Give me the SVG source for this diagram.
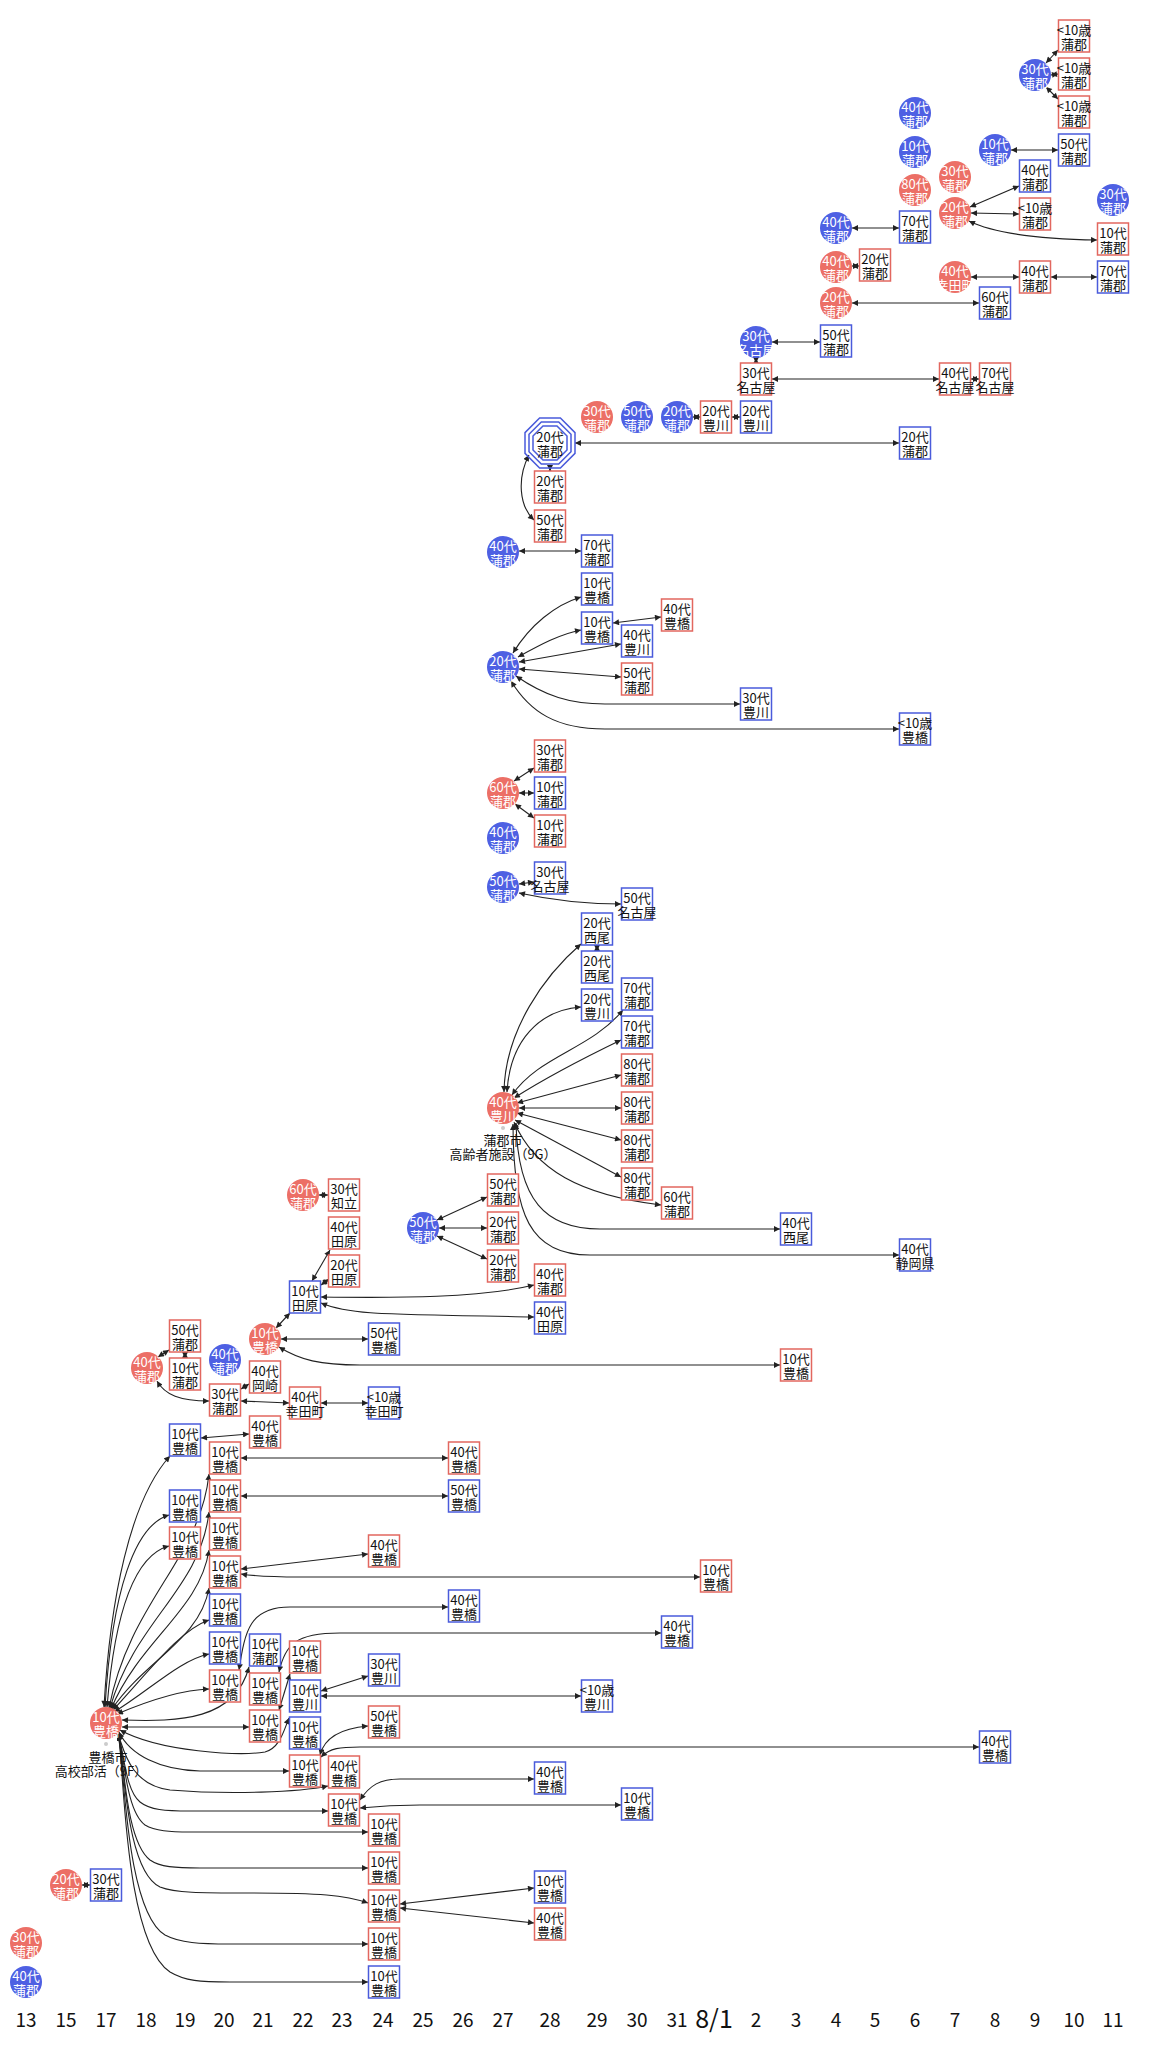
<svg xmlns="http://www.w3.org/2000/svg" width="1159" height="2048" viewBox="0 0 1159 2048">
<style>
text{font-family:"Noto Sans CJK JP","Noto Sans",sans-serif;font-size:13px;text-anchor:middle;dominant-baseline:central;fill:#111}
.cr circle{fill:#EC6F66}.cb circle{fill:#4E60E3}
.cr text,.cb text{fill:#fff}
.br rect{fill:#fff;stroke:#E2675F;stroke-width:1.5}
.bb rect{fill:#fff;stroke:#4A5BDB;stroke-width:1.5}
.oct polygon{fill:none;stroke:#4A5BDB;stroke-width:1.5}
#edges path{fill:none;stroke:#222;stroke-width:1.1;marker-start:url(#a);marker-end:url(#a)}
.ax text{font-size:19px;fill:#111}
text.lbl{font-size:13px;fill:#111}
</style>
<defs>
<marker id="a" viewBox="0 0 10 10" refX="10" refY="5" markerWidth="7" markerHeight="6" orient="auto-start-reverse" markerUnits="userSpaceOnUse"><path d="M0,0 L10,5 L0,10 z" fill="#222"/></marker>
</defs>
<rect width="1159" height="2048" fill="#fff"/>
<g id="edges">
<path d="M1046,63 L1058,50"/>
<path d="M1051,75 L1058,74"/>
<path d="M1046,87 L1058,99"/>
<path d="M1011,150 L1058,150"/>
<path d="M970,207 L1019,186"/>
<path d="M971,213 L1019,214"/>
<path d="M969,221 C995,234 1040,239 1097,240"/>
<path d="M852,228 L899,228"/>
<path d="M852,266 L859,266"/>
<path d="M971,277 L1019,277"/>
<path d="M1051,277 L1097,277"/>
<path d="M852,303 L979,303"/>
<path d="M772,342 L820,342"/>
<path d="M756,358 L756,363"/>
<path d="M772,379 L939,379"/>
<path d="M971,379 L979,379"/>
<path d="M693,417 L700,417"/>
<path d="M732,417 L740,417"/>
<path d="M575,443 L899,443"/>
<path d="M550,468 L550,471"/>
<path d="M529,455 C517,478 519,506 534,520"/>
<path d="M519,551 L581,551"/>
<path d="M513,653 C530,625 555,605 581,597"/>
<path d="M518,657 C540,645 560,634 581,630"/>
<path d="M613,623 L661,617"/>
<path d="M519,662 L621,644"/>
<path d="M519,669 L621,677"/>
<path d="M516,676 C545,696 570,704 605,704 L740,704"/>
<path d="M511,681 C530,712 556,729 605,729 L899,729"/>
<path d="M514,781 L534,768"/>
<path d="M519,793 L534,793"/>
<path d="M515,804 L534,818"/>
<path d="M519,884 L534,882"/>
<path d="M519,893 C560,902 590,904 621,904"/>
<path d="M504,1092 C505,1030 545,975 581,944"/>
<path d="M597,945 L597,951"/>
<path d="M507,1092 C510,1040 540,1010 581,1007"/>
<path d="M512,1095 C540,1055 590,1050 623,1010"/>
<path d="M514,1098 C550,1075 590,1055 621,1040"/>
<path d="M517,1103 L621,1075"/>
<path d="M519,1108 L621,1108"/>
<path d="M517,1113 L621,1140"/>
<path d="M515,1120 L621,1177"/>
<path d="M514,1122 C535,1170 580,1195 661,1205"/>
<path d="M516,1123 C518,1200 545,1229 600,1229 L780,1229"/>
<path d="M513,1124 C513,1215 530,1255 590,1255 L899,1255"/>
<path d="M319,1195 L328,1195"/>
<path d="M312,1281 L330,1250"/>
<path d="M321,1285 L329,1279"/>
<path d="M321,1297 C400,1298 480,1298 534,1285"/>
<path d="M321,1303 C350,1315 380,1314 534,1317"/>
<path d="M276,1328 L290,1313"/>
<path d="M437,1220 L487,1197"/>
<path d="M439,1228 L487,1228"/>
<path d="M437,1236 L487,1259"/>
<path d="M281,1339 L368,1339"/>
<path d="M279,1347 C300,1360 320,1365 360,1365 L780,1365"/>
<path d="M158,1357 L169,1350"/>
<path d="M185,1352 L185,1358"/>
<path d="M157,1381 C165,1395 180,1401 209,1401"/>
<path d="M241,1389 L249,1384"/>
<path d="M241,1401 L289,1403"/>
<path d="M321,1403 L368,1403"/>
<path d="M201,1438 L249,1434"/>
<path d="M241,1458 L448,1458"/>
<path d="M241,1496 L448,1496"/>
<path d="M241,1569 L368,1554"/>
<path d="M241,1574 C260,1577 280,1577 300,1577 L700,1577"/>
<path d="M239,1670 C245,1630 250,1607 290,1607 L448,1607"/>
<path d="M279,1672 C285,1645 295,1633 340,1633 L661,1633"/>
<path d="M279,1710 L290,1674"/>
<path d="M321,1691 L368,1676"/>
<path d="M321,1696 L581,1696"/>
<path d="M320,1755 C325,1735 345,1728 368,1726"/>
<path d="M321,1757 C330,1748 340,1747 360,1747 L979,1747"/>
<path d="M360,1800 C370,1785 380,1779 400,1779 L534,1779"/>
<path d="M360,1808 C380,1806 400,1805 420,1805 L621,1805"/>
<path d="M400,1904 L534,1888"/>
<path d="M400,1908 L534,1923"/>
<path d="M82,1885 L90,1885"/>
<path d="M104,1707 C110,1600 130,1500 170,1456"/>
<path d="M105,1707 C112,1590 135,1525 169,1515"/>
<path d="M107,1707 C115,1610 135,1555 169,1546"/>
<path d="M109,1708 C130,1600 200,1560 209,1474"/>
<path d="M110,1708 C135,1620 200,1590 209,1512"/>
<path d="M111,1709 C140,1640 200,1610 209,1550"/>
<path d="M112,1709 C145,1660 200,1640 209,1588"/>
<path d="M113,1710 C150,1670 180,1630 209,1620"/>
<path d="M114,1712 C150,1690 180,1660 209,1654"/>
<path d="M117,1714 C150,1700 180,1690 209,1689"/>
<path d="M122,1720 C180,1722 235,1720 249,1667"/>
<path d="M122,1727 L249,1727"/>
<path d="M120,1730 C160,1752 240,1756 265,1752 C280,1748 284,1730 289,1718"/>
<path d="M119,1732 C130,1755 160,1770 200,1771 L289,1771"/>
<path d="M118,1734 C124,1750 130,1785 170,1790 C230,1795 300,1792 328,1786"/>
<path d="M118,1734 C124,1750 125,1790 140,1802 C150,1810 165,1811 190,1811 L328,1811"/>
<path d="M118,1734 C124,1750 125,1810 145,1825 C155,1831 170,1832 190,1832 L368,1832"/>
<path d="M118,1734 C124,1750 124,1840 150,1860 C160,1867 175,1868 200,1868 L368,1868"/>
<path d="M118,1734 C124,1750 124,1870 160,1887 C175,1893 200,1893 250,1893 C320,1893 345,1895 368,1903"/>
<path d="M118,1734 C124,1750 124,1910 165,1935 C180,1943 200,1944 230,1944 L368,1944"/>
<path d="M118,1734 C124,1750 122,1940 170,1972 C185,1981 200,1982 230,1982 L368,1982"/>
</g>
<g id="n1" class="br"><rect x="1058.5" y="20" width="31" height="32"/><text x="1074" y="29.3">&lt;10歳<tspan x="1074" dy="13.4">蒲郡</tspan></text></g>
<g id="n2" class="br"><rect x="1058.5" y="58" width="31" height="32"/><text x="1074" y="67.3">&lt;10歳<tspan x="1074" dy="13.4">蒲郡</tspan></text></g>
<g id="n3" class="br"><rect x="1058.5" y="96" width="31" height="32"/><text x="1074" y="105.3">&lt;10歳<tspan x="1074" dy="13.4">蒲郡</tspan></text></g>
<g id="n4" class="cb"><circle cx="1035" cy="75" r="16"/><text x="1035" y="68.3">30代<tspan x="1035" dy="13.4">蒲郡</tspan></text></g>
<g id="n5" class="cb"><circle cx="915" cy="113" r="16"/><text x="915" y="106.3">40代<tspan x="915" dy="13.4">蒲郡</tspan></text></g>
<g id="n6" class="cb"><circle cx="915" cy="152" r="16"/><text x="915" y="145.3">10代<tspan x="915" dy="13.4">蒲郡</tspan></text></g>
<g id="n7" class="cr"><circle cx="915" cy="190" r="16"/><text x="915" y="183.3">80代<tspan x="915" dy="13.4">蒲郡</tspan></text></g>
<g id="n8" class="cb"><circle cx="995" cy="150" r="16"/><text x="995" y="143.3">10代<tspan x="995" dy="13.4">蒲郡</tspan></text></g>
<g id="n9" class="bb"><rect x="1058.5" y="134" width="31" height="32"/><text x="1074" y="143.3">50代<tspan x="1074" dy="13.4">蒲郡</tspan></text></g>
<g id="n10" class="cr"><circle cx="955" cy="177" r="16"/><text x="955" y="170.3">30代<tspan x="955" dy="13.4">蒲郡</tspan></text></g>
<g id="n11" class="cr"><circle cx="955" cy="213" r="16"/><text x="955" y="206.3">20代<tspan x="955" dy="13.4">蒲郡</tspan></text></g>
<g id="n12" class="bb"><rect x="1019.5" y="160" width="31" height="32"/><text x="1035" y="169.3">40代<tspan x="1035" dy="13.4">蒲郡</tspan></text></g>
<g id="n13" class="br"><rect x="1019.5" y="198" width="31" height="32"/><text x="1035" y="207.3">&lt;10歳<tspan x="1035" dy="13.4">蒲郡</tspan></text></g>
<g id="n14" class="cb"><circle cx="1113" cy="200" r="16"/><text x="1113" y="193.3">30代<tspan x="1113" dy="13.4">蒲郡</tspan></text></g>
<g id="n15" class="br"><rect x="1097.5" y="223" width="31" height="32"/><text x="1113" y="232.3">10代<tspan x="1113" dy="13.4">蒲郡</tspan></text></g>
<g id="n16" class="cb"><circle cx="836" cy="228" r="16"/><text x="836" y="221.3">40代<tspan x="836" dy="13.4">蒲郡</tspan></text></g>
<g id="n17" class="bb"><rect x="899.5" y="211" width="31" height="32"/><text x="915" y="220.3">70代<tspan x="915" dy="13.4">蒲郡</tspan></text></g>
<g id="n18" class="cr"><circle cx="836" cy="267" r="16"/><text x="836" y="260.3">40代<tspan x="836" dy="13.4">蒲郡</tspan></text></g>
<g id="n19" class="br"><rect x="859.5" y="249" width="31" height="32"/><text x="875" y="258.3">20代<tspan x="875" dy="13.4">蒲郡</tspan></text></g>
<g id="n20" class="cr"><circle cx="955" cy="277" r="16"/><text x="955" y="270.3">40代<tspan x="955" dy="13.4">幸田町</tspan></text></g>
<g id="n21" class="br"><rect x="1019.5" y="261" width="31" height="32"/><text x="1035" y="270.3">40代<tspan x="1035" dy="13.4">蒲郡</tspan></text></g>
<g id="n22" class="bb"><rect x="1097.5" y="261" width="31" height="32"/><text x="1113" y="270.3">70代<tspan x="1113" dy="13.4">蒲郡</tspan></text></g>
<g id="n23" class="cr"><circle cx="836" cy="303" r="16"/><text x="836" y="296.3">20代<tspan x="836" dy="13.4">蒲郡</tspan></text></g>
<g id="n24" class="bb"><rect x="979.5" y="287" width="31" height="32"/><text x="995" y="296.3">60代<tspan x="995" dy="13.4">蒲郡</tspan></text></g>
<g id="n25" class="cb"><circle cx="756" cy="342" r="16"/><text x="756" y="335.3">30代<tspan x="756" dy="13.4">名古屋</tspan></text></g>
<g id="n26" class="bb"><rect x="820.5" y="325" width="31" height="32"/><text x="836" y="334.3">50代<tspan x="836" dy="13.4">蒲郡</tspan></text></g>
<g id="n27" class="br"><rect x="740.5" y="363" width="31" height="32"/><text x="756" y="372.3">30代<tspan x="756" dy="13.4">名古屋</tspan></text></g>
<g id="n28" class="br"><rect x="939.5" y="363" width="31" height="32"/><text x="955" y="372.3">40代<tspan x="955" dy="13.4">名古屋</tspan></text></g>
<g id="n29" class="br"><rect x="979.5" y="363" width="31" height="32"/><text x="995" y="372.3">70代<tspan x="995" dy="13.4">名古屋</tspan></text></g>
<g id="n30" class="cr"><circle cx="597" cy="417" r="16"/><text x="597" y="410.3">30代<tspan x="597" dy="13.4">蒲郡</tspan></text></g>
<g id="n31" class="cb"><circle cx="637" cy="417" r="16"/><text x="637" y="410.3">50代<tspan x="637" dy="13.4">蒲郡</tspan></text></g>
<g id="n32" class="cb"><circle cx="677" cy="417" r="16"/><text x="677" y="410.3">20代<tspan x="677" dy="13.4">蒲郡</tspan></text></g>
<g id="n33" class="br"><rect x="700.5" y="401" width="31" height="32"/><text x="716" y="410.3">20代<tspan x="716" dy="13.4">豊川</tspan></text></g>
<g id="n34" class="bb"><rect x="740.5" y="401" width="31" height="32"/><text x="756" y="410.3">20代<tspan x="756" dy="13.4">豊川</tspan></text></g>
<g id="n35" class="oct"><g transform="translate(550,443)"><polygon points="25,-10.4 25,10.4 10.4,25 -10.4,25 -25,10.4 -25,-10.4 -10.4,-25 10.4,-25"/><polygon points="21,-8.7 21,8.7 8.7,21 -8.7,21 -21,8.7 -21,-8.7 -8.7,-21 8.7,-21"/><polygon points="17,-7 17,7 7,17 -7,17 -17,7 -17,-7 -7,-17 7,-17"/></g><text x="550" y="436.3">20代<tspan x="550" dy="13.4">蒲郡</tspan></text></g>
<g id="n36" class="bb"><rect x="899.5" y="427" width="31" height="32"/><text x="915" y="436.3">20代<tspan x="915" dy="13.4">蒲郡</tspan></text></g>
<g id="n37" class="br"><rect x="534.5" y="471" width="31" height="32"/><text x="550" y="480.3">20代<tspan x="550" dy="13.4">蒲郡</tspan></text></g>
<g id="n38" class="br"><rect x="534.5" y="510" width="31" height="32"/><text x="550" y="519.3">50代<tspan x="550" dy="13.4">蒲郡</tspan></text></g>
<g id="n39" class="cb"><circle cx="503" cy="552" r="16"/><text x="503" y="545.3">40代<tspan x="503" dy="13.4">蒲郡</tspan></text></g>
<g id="n40" class="bb"><rect x="581.5" y="535" width="31" height="32"/><text x="597" y="544.3">70代<tspan x="597" dy="13.4">蒲郡</tspan></text></g>
<g id="n41" class="bb"><rect x="581.5" y="573" width="31" height="32"/><text x="597" y="582.3">10代<tspan x="597" dy="13.4">豊橋</tspan></text></g>
<g id="n42" class="bb"><rect x="581.5" y="612" width="31" height="32"/><text x="597" y="621.3">10代<tspan x="597" dy="13.4">豊橋</tspan></text></g>
<g id="n43" class="br"><rect x="661.5" y="599" width="31" height="32"/><text x="677" y="608.3">40代<tspan x="677" dy="13.4">豊橋</tspan></text></g>
<g id="n44" class="bb"><rect x="621.5" y="625" width="31" height="32"/><text x="637" y="634.3">40代<tspan x="637" dy="13.4">豊川</tspan></text></g>
<g id="n45" class="cb"><circle cx="503" cy="667" r="16"/><text x="503" y="660.3">20代<tspan x="503" dy="13.4">蒲郡</tspan></text></g>
<g id="n46" class="br"><rect x="621.5" y="663" width="31" height="32"/><text x="637" y="672.3">50代<tspan x="637" dy="13.4">蒲郡</tspan></text></g>
<g id="n47" class="bb"><rect x="740.5" y="688" width="31" height="32"/><text x="756" y="697.3">30代<tspan x="756" dy="13.4">豊川</tspan></text></g>
<g id="n48" class="bb"><rect x="899.5" y="713" width="31" height="32"/><text x="915" y="722.3">&lt;10歳<tspan x="915" dy="13.4">豊橋</tspan></text></g>
<g id="n49" class="br"><rect x="534.5" y="740" width="31" height="32"/><text x="550" y="749.3">30代<tspan x="550" dy="13.4">蒲郡</tspan></text></g>
<g id="n50" class="cr"><circle cx="503" cy="793" r="16"/><text x="503" y="786.3">60代<tspan x="503" dy="13.4">蒲郡</tspan></text></g>
<g id="n51" class="bb"><rect x="534.5" y="777" width="31" height="32"/><text x="550" y="786.3">10代<tspan x="550" dy="13.4">蒲郡</tspan></text></g>
<g id="n52" class="br"><rect x="534.5" y="815" width="31" height="32"/><text x="550" y="824.3">10代<tspan x="550" dy="13.4">蒲郡</tspan></text></g>
<g id="n53" class="cb"><circle cx="503" cy="838" r="16"/><text x="503" y="831.3">40代<tspan x="503" dy="13.4">蒲郡</tspan></text></g>
<g id="n54" class="cb"><circle cx="503" cy="887" r="16"/><text x="503" y="880.3">50代<tspan x="503" dy="13.4">蒲郡</tspan></text></g>
<g id="n55" class="bb"><rect x="534.5" y="862" width="31" height="32"/><text x="550" y="871.3">30代<tspan x="550" dy="13.4">名古屋</tspan></text></g>
<g id="n56" class="bb"><rect x="621.5" y="888" width="31" height="32"/><text x="637" y="897.3">50代<tspan x="637" dy="13.4">名古屋</tspan></text></g>
<g id="n57" class="bb"><rect x="581.5" y="913" width="31" height="32"/><text x="597" y="922.3">20代<tspan x="597" dy="13.4">西尾</tspan></text></g>
<g id="n58" class="bb"><rect x="581.5" y="951" width="31" height="32"/><text x="597" y="960.3">20代<tspan x="597" dy="13.4">西尾</tspan></text></g>
<g id="n59" class="bb"><rect x="581.5" y="989" width="31" height="32"/><text x="597" y="998.3">20代<tspan x="597" dy="13.4">豊川</tspan></text></g>
<g id="n60" class="bb"><rect x="621.5" y="978" width="31" height="32"/><text x="637" y="987.3">70代<tspan x="637" dy="13.4">蒲郡</tspan></text></g>
<g id="n61" class="bb"><rect x="621.5" y="1016" width="31" height="32"/><text x="637" y="1025.3">70代<tspan x="637" dy="13.4">蒲郡</tspan></text></g>
<g id="n62" class="br"><rect x="621.5" y="1054" width="31" height="32"/><text x="637" y="1063.3">80代<tspan x="637" dy="13.4">蒲郡</tspan></text></g>
<g id="n63" class="br"><rect x="621.5" y="1092" width="31" height="32"/><text x="637" y="1101.3">80代<tspan x="637" dy="13.4">蒲郡</tspan></text></g>
<g id="n64" class="br"><rect x="621.5" y="1130" width="31" height="32"/><text x="637" y="1139.3">80代<tspan x="637" dy="13.4">蒲郡</tspan></text></g>
<g id="n65" class="br"><rect x="621.5" y="1168" width="31" height="32"/><text x="637" y="1177.3">80代<tspan x="637" dy="13.4">蒲郡</tspan></text></g>
<g id="n66" class="br"><rect x="661.5" y="1187" width="31" height="32"/><text x="677" y="1196.3">60代<tspan x="677" dy="13.4">蒲郡</tspan></text></g>
<g id="n67" class="bb"><rect x="780.5" y="1213" width="31" height="32"/><text x="796" y="1222.3">40代<tspan x="796" dy="13.4">西尾</tspan></text></g>
<g id="n68" class="bb"><rect x="899.5" y="1239" width="31" height="32"/><text x="915" y="1248.3">40代<tspan x="915" dy="13.4">静岡県</tspan></text></g>
<g id="n69" class="cr"><circle cx="503" cy="1108" r="16"/><text x="503" y="1101.3">40代<tspan x="503" dy="13.4">豊川</tspan></text><circle cx="503" cy="1128" r="2" style="fill:#ccc"/><text class="lbl" x="503" y="1139">蒲郡市<tspan x="503" dy="14">高齢者施設（9G）</tspan></text></g>
<g id="n70" class="cr"><circle cx="303" cy="1195" r="16"/><text x="303" y="1188.3">60代<tspan x="303" dy="13.4">蒲郡</tspan></text></g>
<g id="n71" class="br"><rect x="328.5" y="1179" width="31" height="32"/><text x="344" y="1188.3">30代<tspan x="344" dy="13.4">知立</tspan></text></g>
<g id="n72" class="br"><rect x="328.5" y="1217" width="31" height="32"/><text x="344" y="1226.3">40代<tspan x="344" dy="13.4">田原</tspan></text></g>
<g id="n73" class="br"><rect x="328.5" y="1255" width="31" height="32"/><text x="344" y="1264.3">20代<tspan x="344" dy="13.4">田原</tspan></text></g>
<g id="n74" class="bb"><rect x="289.5" y="1281" width="31" height="32"/><text x="305" y="1290.3">10代<tspan x="305" dy="13.4">田原</tspan></text></g>
<g id="n75" class="cb"><circle cx="423" cy="1228" r="16"/><text x="423" y="1221.3">50代<tspan x="423" dy="13.4">蒲郡</tspan></text></g>
<g id="n76" class="br"><rect x="487.5" y="1174" width="31" height="32"/><text x="503" y="1183.3">50代<tspan x="503" dy="13.4">蒲郡</tspan></text></g>
<g id="n77" class="br"><rect x="487.5" y="1212" width="31" height="32"/><text x="503" y="1221.3">20代<tspan x="503" dy="13.4">蒲郡</tspan></text></g>
<g id="n78" class="br"><rect x="487.5" y="1250" width="31" height="32"/><text x="503" y="1259.3">20代<tspan x="503" dy="13.4">蒲郡</tspan></text></g>
<g id="n79" class="br"><rect x="534.5" y="1264" width="31" height="32"/><text x="550" y="1273.3">40代<tspan x="550" dy="13.4">蒲郡</tspan></text></g>
<g id="n80" class="bb"><rect x="534.5" y="1302" width="31" height="32"/><text x="550" y="1311.3">40代<tspan x="550" dy="13.4">田原</tspan></text></g>
<g id="n81" class="cr"><circle cx="265" cy="1339" r="16"/><text x="265" y="1332.3">10代<tspan x="265" dy="13.4">豊橋</tspan></text></g>
<g id="n82" class="bb"><rect x="368.5" y="1323" width="31" height="32"/><text x="384" y="1332.3">50代<tspan x="384" dy="13.4">豊橋</tspan></text></g>
<g id="n83" class="br"><rect x="780.5" y="1349" width="31" height="32"/><text x="796" y="1358.3">10代<tspan x="796" dy="13.4">豊橋</tspan></text></g>
<g id="n84" class="cr"><circle cx="147" cy="1368" r="16"/><text x="147" y="1361.3">40代<tspan x="147" dy="13.4">蒲郡</tspan></text></g>
<g id="n85" class="br"><rect x="169.5" y="1320" width="31" height="32"/><text x="185" y="1329.3">50代<tspan x="185" dy="13.4">蒲郡</tspan></text></g>
<g id="n86" class="br"><rect x="169.5" y="1358" width="31" height="32"/><text x="185" y="1367.3">10代<tspan x="185" dy="13.4">蒲郡</tspan></text></g>
<g id="n87" class="cb"><circle cx="225" cy="1360" r="16"/><text x="225" y="1353.3">40代<tspan x="225" dy="13.4">蒲郡</tspan></text></g>
<g id="n88" class="br"><rect x="249.5" y="1361" width="31" height="32"/><text x="265" y="1370.3">40代<tspan x="265" dy="13.4">岡崎</tspan></text></g>
<g id="n89" class="br"><rect x="209.5" y="1384" width="31" height="32"/><text x="225" y="1393.3">30代<tspan x="225" dy="13.4">蒲郡</tspan></text></g>
<g id="n90" class="br"><rect x="289.5" y="1387" width="31" height="32"/><text x="305" y="1396.3">40代<tspan x="305" dy="13.4">幸田町</tspan></text></g>
<g id="n91" class="bb"><rect x="368.5" y="1387" width="31" height="32"/><text x="384" y="1396.3">&lt;10歳<tspan x="384" dy="13.4">幸田町</tspan></text></g>
<g id="n92" class="bb"><rect x="169.5" y="1424" width="31" height="32"/><text x="185" y="1433.3">10代<tspan x="185" dy="13.4">豊橋</tspan></text></g>
<g id="n93" class="br"><rect x="249.5" y="1416" width="31" height="32"/><text x="265" y="1425.3">40代<tspan x="265" dy="13.4">豊橋</tspan></text></g>
<g id="n94" class="br"><rect x="209.5" y="1442" width="31" height="32"/><text x="225" y="1451.3">10代<tspan x="225" dy="13.4">豊橋</tspan></text></g>
<g id="n95" class="br"><rect x="448.5" y="1442" width="31" height="32"/><text x="464" y="1451.3">40代<tspan x="464" dy="13.4">豊橋</tspan></text></g>
<g id="n96" class="br"><rect x="209.5" y="1480" width="31" height="32"/><text x="225" y="1489.3">10代<tspan x="225" dy="13.4">豊橋</tspan></text></g>
<g id="n97" class="bb"><rect x="448.5" y="1480" width="31" height="32"/><text x="464" y="1489.3">50代<tspan x="464" dy="13.4">豊橋</tspan></text></g>
<g id="n98" class="bb"><rect x="169.5" y="1490" width="31" height="32"/><text x="185" y="1499.3">10代<tspan x="185" dy="13.4">豊橋</tspan></text></g>
<g id="n99" class="br"><rect x="169.5" y="1527" width="31" height="32"/><text x="185" y="1536.3">10代<tspan x="185" dy="13.4">豊橋</tspan></text></g>
<g id="n100" class="br"><rect x="209.5" y="1518" width="31" height="32"/><text x="225" y="1527.3">10代<tspan x="225" dy="13.4">豊橋</tspan></text></g>
<g id="n101" class="br"><rect x="368.5" y="1535" width="31" height="32"/><text x="384" y="1544.3">40代<tspan x="384" dy="13.4">豊橋</tspan></text></g>
<g id="n102" class="br"><rect x="209.5" y="1556" width="31" height="32"/><text x="225" y="1565.3">10代<tspan x="225" dy="13.4">豊橋</tspan></text></g>
<g id="n103" class="br"><rect x="700.5" y="1560" width="31" height="32"/><text x="716" y="1569.3">10代<tspan x="716" dy="13.4">豊橋</tspan></text></g>
<g id="n104" class="bb"><rect x="209.5" y="1594" width="31" height="32"/><text x="225" y="1603.3">10代<tspan x="225" dy="13.4">豊橋</tspan></text></g>
<g id="n105" class="bb"><rect x="448.5" y="1590" width="31" height="32"/><text x="464" y="1599.3">40代<tspan x="464" dy="13.4">豊橋</tspan></text></g>
<g id="n106" class="bb"><rect x="661.5" y="1616" width="31" height="32"/><text x="677" y="1625.3">40代<tspan x="677" dy="13.4">豊橋</tspan></text></g>
<g id="n107" class="bb"><rect x="209.5" y="1632" width="31" height="32"/><text x="225" y="1641.3">10代<tspan x="225" dy="13.4">豊橋</tspan></text></g>
<g id="n108" class="bb"><rect x="249.5" y="1634" width="31" height="32"/><text x="265" y="1643.3">10代<tspan x="265" dy="13.4">蒲郡</tspan></text></g>
<g id="n109" class="br"><rect x="289.5" y="1641" width="31" height="32"/><text x="305" y="1650.3">10代<tspan x="305" dy="13.4">豊橋</tspan></text></g>
<g id="n110" class="bb"><rect x="368.5" y="1654" width="31" height="32"/><text x="384" y="1663.3">30代<tspan x="384" dy="13.4">豊川</tspan></text></g>
<g id="n111" class="br"><rect x="209.5" y="1670" width="31" height="32"/><text x="225" y="1679.3">10代<tspan x="225" dy="13.4">豊橋</tspan></text></g>
<g id="n112" class="br"><rect x="249.5" y="1673" width="31" height="32"/><text x="265" y="1682.3">10代<tspan x="265" dy="13.4">豊橋</tspan></text></g>
<g id="n113" class="bb"><rect x="289.5" y="1680" width="31" height="32"/><text x="305" y="1689.3">10代<tspan x="305" dy="13.4">豊川</tspan></text></g>
<g id="n114" class="bb"><rect x="581.5" y="1680" width="31" height="32"/><text x="597" y="1689.3">&lt;10歳<tspan x="597" dy="13.4">豊川</tspan></text></g>
<g id="n115" class="br"><rect x="249.5" y="1710" width="31" height="32"/><text x="265" y="1719.3">10代<tspan x="265" dy="13.4">豊橋</tspan></text></g>
<g id="n116" class="br"><rect x="368.5" y="1706" width="31" height="32"/><text x="384" y="1715.3">50代<tspan x="384" dy="13.4">豊橋</tspan></text></g>
<g id="n117" class="bb"><rect x="289.5" y="1717" width="31" height="32"/><text x="305" y="1726.3">10代<tspan x="305" dy="13.4">豊橋</tspan></text></g>
<g id="n118" class="bb"><rect x="979.5" y="1731" width="31" height="32"/><text x="995" y="1740.3">40代<tspan x="995" dy="13.4">豊橋</tspan></text></g>
<g id="n119" class="br"><rect x="289.5" y="1755" width="31" height="32"/><text x="305" y="1764.3">10代<tspan x="305" dy="13.4">豊橋</tspan></text></g>
<g id="n120" class="br"><rect x="328.5" y="1756" width="31" height="32"/><text x="344" y="1765.3">40代<tspan x="344" dy="13.4">豊橋</tspan></text></g>
<g id="n121" class="bb"><rect x="534.5" y="1762" width="31" height="32"/><text x="550" y="1771.3">40代<tspan x="550" dy="13.4">豊橋</tspan></text></g>
<g id="n122" class="br"><rect x="328.5" y="1794" width="31" height="32"/><text x="344" y="1803.3">10代<tspan x="344" dy="13.4">豊橋</tspan></text></g>
<g id="n123" class="bb"><rect x="621.5" y="1788" width="31" height="32"/><text x="637" y="1797.3">10代<tspan x="637" dy="13.4">豊橋</tspan></text></g>
<g id="n124" class="br"><rect x="368.5" y="1814" width="31" height="32"/><text x="384" y="1823.3">10代<tspan x="384" dy="13.4">豊橋</tspan></text></g>
<g id="n125" class="br"><rect x="368.5" y="1852" width="31" height="32"/><text x="384" y="1861.3">10代<tspan x="384" dy="13.4">豊橋</tspan></text></g>
<g id="n126" class="br"><rect x="368.5" y="1890" width="31" height="32"/><text x="384" y="1899.3">10代<tspan x="384" dy="13.4">豊橋</tspan></text></g>
<g id="n127" class="br"><rect x="368.5" y="1928" width="31" height="32"/><text x="384" y="1937.3">10代<tspan x="384" dy="13.4">豊橋</tspan></text></g>
<g id="n128" class="bb"><rect x="368.5" y="1966" width="31" height="32"/><text x="384" y="1975.3">10代<tspan x="384" dy="13.4">豊橋</tspan></text></g>
<g id="n129" class="bb"><rect x="534.5" y="1871" width="31" height="32"/><text x="550" y="1880.3">10代<tspan x="550" dy="13.4">豊橋</tspan></text></g>
<g id="n130" class="br"><rect x="534.5" y="1908" width="31" height="32"/><text x="550" y="1917.3">40代<tspan x="550" dy="13.4">豊橋</tspan></text></g>
<g id="n131" class="cr"><circle cx="66" cy="1885" r="16"/><text x="66" y="1878.3">20代<tspan x="66" dy="13.4">蒲郡</tspan></text></g>
<g id="n132" class="bb"><rect x="90.5" y="1869" width="31" height="32"/><text x="106" y="1878.3">30代<tspan x="106" dy="13.4">蒲郡</tspan></text></g>
<g id="n133" class="cr"><circle cx="26" cy="1943" r="16"/><text x="26" y="1936.3">30代<tspan x="26" dy="13.4">蒲郡</tspan></text></g>
<g id="n134" class="cb"><circle cx="26" cy="1982" r="16"/><text x="26" y="1975.3">40代<tspan x="26" dy="13.4">蒲郡</tspan></text></g>
<g id="n135" class="cr"><circle cx="106" cy="1723" r="16"/><text x="106" y="1716.3">10代<tspan x="106" dy="13.4">豊橋</tspan></text><circle cx="106" cy="1744" r="2" style="fill:#ccc"/><text class="lbl" x="108" y="1756">豊橋市<tspan x="101" dy="14">高校部活（9F）</tspan></text></g>
<g class="ax">
<text x="26" y="2018">13</text><text x="66" y="2018">15</text><text x="106" y="2018">17</text><text x="146" y="2018">18</text><text x="185" y="2018">19</text><text x="224" y="2018">20</text><text x="263" y="2018">21</text><text x="303" y="2018">22</text><text x="342" y="2018">23</text><text x="383" y="2018">24</text><text x="423" y="2018">25</text><text x="463" y="2018">26</text><text x="503" y="2018">27</text><text x="550" y="2018">28</text><text x="597" y="2018">29</text><text x="637" y="2018">30</text><text x="677" y="2018">31</text><text x="714" y="2017" style="font-size:25px">8/1</text><text x="756" y="2018">2</text><text x="796" y="2018">3</text><text x="836" y="2018">4</text><text x="875" y="2018">5</text><text x="915" y="2018">6</text><text x="955" y="2018">7</text><text x="995" y="2018">8</text><text x="1035" y="2018">9</text><text x="1074" y="2018">10</text><text x="1113" y="2018">11</text>
</g>
</svg>
